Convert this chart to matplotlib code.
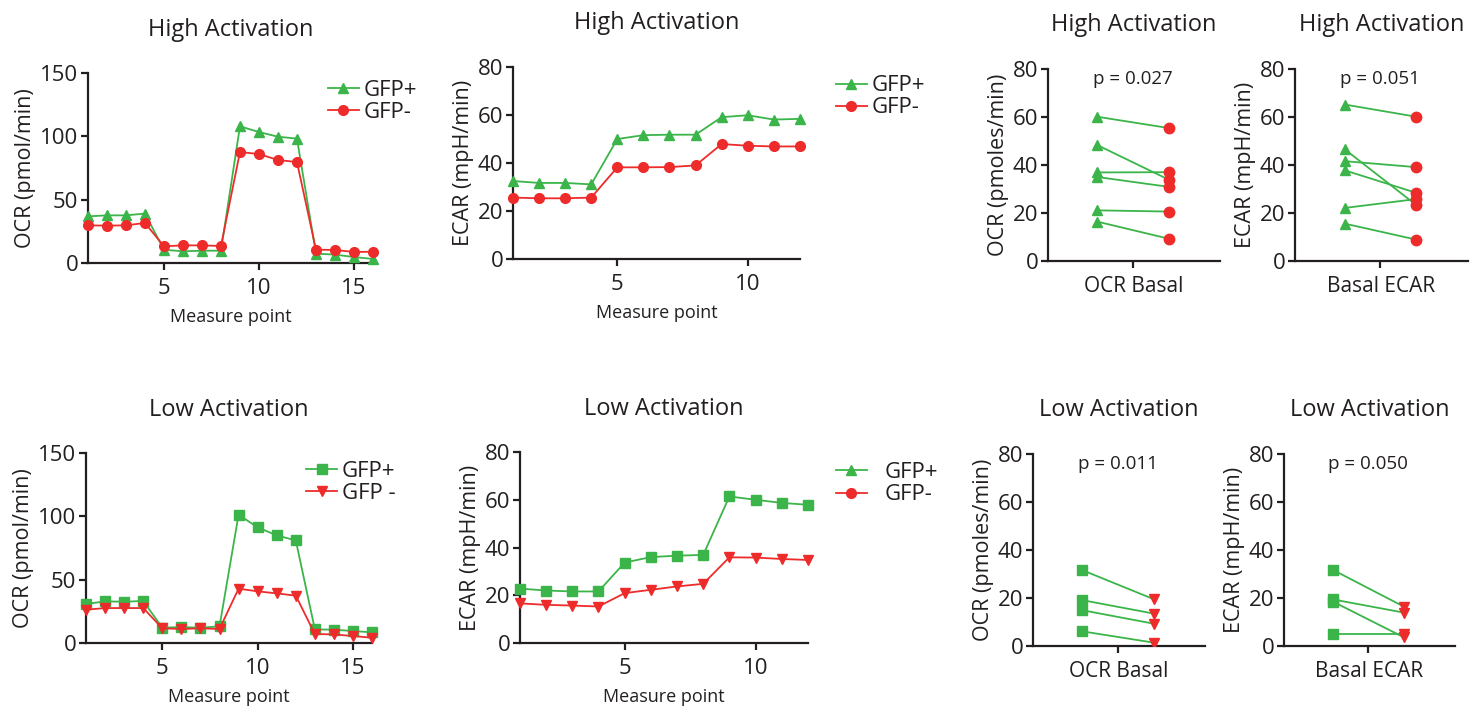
import matplotlib
matplotlib.use("Agg")
import matplotlib.pyplot as plt

plt.rcParams['font.family'] = ['Open Sans', 'DejaVu Sans']
plt.rcParams['text.color'] = '#231f20'
plt.rcParams['axes.labelcolor'] = '#231f20'
plt.rcParams['xtick.color'] = '#231f20'
plt.rcParams['ytick.color'] = '#231f20'

GREEN = '#3bb54a'
RED = '#ee2b2b'

measure = list(range(1, 17))
measure12 = list(range(1, 13))

# high activation, OCR time course
ocr_high_pos = [36.8, 37.6, 37.6, 39.0, 10.5, 9.2, 9.7, 9.7,
                107.9, 103.4, 99.7, 98.2, 7.4, 6.6, 4.7, 3.2]
ocr_high_neg = [29.7, 29.5, 29.7, 31.6, 13.2, 13.9, 13.9, 13.4,
                87.6, 86.0, 81.3, 79.7, 10.5, 10.3, 8.7, 8.9]
# high activation, ECAR time course
ecar_high_pos = [32.5, 31.7, 31.7, 31.1, 50.0, 51.6, 51.8, 51.8, 59.1, 59.9, 58.1, 58.4]
ecar_high_neg = [25.6, 25.3, 25.3, 25.6, 38.2, 38.2, 38.3, 39.0, 47.9, 47.2, 46.9, 46.9]
# low activation, OCR time course
ocr_low_pos = [30.8, 32.9, 32.6, 33.2, 12.1, 12.6, 12.1, 13.2,
               101.3, 91.3, 85.0, 81.0, 10.8, 10.5, 9.5, 8.4]
ocr_low_neg = [26.3, 27.6, 27.6, 27.6, 11.6, 11.1, 11.6, 11.1,
               42.9, 40.8, 39.2, 37.4, 7.1, 6.8, 5.5, 4.2]
# low activation, ECAR time course
ecar_low_pos = [22.8, 22.0, 21.6, 21.6, 33.7, 36.0, 36.6, 36.9, 61.4, 60.0, 58.7, 57.9]
ecar_low_neg = [16.6, 16.0, 15.7, 15.3, 20.9, 22.3, 23.7, 24.8, 35.9, 35.8, 35.2, 34.8]

# paired basal values (GFP+, GFP-)
ocr_basal_high_pos = [60.1, 48.3, 36.9, 35.0, 21.1, 16.4]
ocr_basal_high_neg = [55.4, 33.9, 37.0, 30.9, 20.6, 9.3]
ecar_basal_high_pos = [65.2, 46.6, 41.6, 37.8, 22.1, 15.6]
ecar_basal_high_neg = [60.1, 23.3, 39.1, 28.4, 25.8, 8.9]
ocr_basal_low_pos = [31.6, 19.1, 14.9, 6.1]
ocr_basal_low_neg = [19.5, 13.5, 9.3, 1.4]
ecar_basal_low_pos = [31.7, 19.4, 18.5, 5.0]
ecar_basal_low_neg = [16.4, 13.9, 3.6, 5.0]

p_values = ['p = 0.027', 'p = 0.051', 'p = 0.011', 'p = 0.050']

fig = plt.figure(figsize=(14.83, 7.06), dpi=100)


def style(ax, xpad=2):
    for s in ['top', 'right']:
        ax.spines[s].set_visible(False)
    for s in ['left', 'bottom']:
        ax.spines[s].set_linewidth(1.6)
        ax.spines[s].set_color('#231f20')
    ax.tick_params(width=1.6, length=5, labelsize=16, pad=2)
    ax.tick_params(axis='x', pad=xpad)


def timecourse(rect, x, pos, neg, mpos, mneg, ylim, yticks, ylabel, title,
               legend_anchor, leg_labels, leg_markers, textpad=0.2):
    ax = fig.add_axes(rect)
    ax.plot(x, pos, color=GREEN, marker=mpos, ms=7, lw=1.3, clip_on=False, zorder=3)
    ax.plot(x, neg, color=RED, marker=mneg, ms=7, lw=1.3, clip_on=False, zorder=3)
    ax.set_xlim(1, x[-1])
    ax.set_xticks([t for t in [5, 10, 15] if t <= x[-1]])
    ax.set_ylim(*ylim)
    ax.set_yticks(yticks)
    ax.set_xlabel('Measure point', fontsize=13, labelpad=6)
    ax.set_ylabel(ylabel, fontsize=15.5, labelpad=3)
    ax.set_title(title, fontsize=17, pad=27)
    style(ax, xpad=6)
    h1, = ax.plot([], [], color=GREEN, marker=leg_markers[0], ms=7, lw=1.3)
    h2, = ax.plot([], [], color=RED, marker=leg_markers[1], ms=7, lw=1.3)
    fig.legend([h1, h2], leg_labels, loc='upper left', bbox_to_anchor=legend_anchor,
               frameon=False, fontsize=16, handlelength=1.4, handletextpad=textpad,
               labelspacing=0.05, borderpad=0)
    return ax


def paired(rect, pos, neg, mpos, mneg, ylabel, xlabel, title, ptext):
    ax = fig.add_axes(rect)
    for a, b in zip(pos, neg):
        ax.plot([0, 1], [a, b], color=GREEN, lw=1.3, zorder=2)
    ax.plot([0] * len(pos), pos, ls='none', marker=mpos, color=GREEN, ms=7.5, zorder=3)
    ax.plot([1] * len(neg), neg, ls='none', marker=mneg, color=RED, ms=7.5, zorder=4)
    ax.set_xlim(-0.69, 1.72)
    ax.set_xticks([0.5])
    ax.set_xticklabels([''])
    ax.set_ylim(0, 80)
    ax.set_yticks([0, 20, 40, 60, 80])
    ax.set_xlabel(xlabel, fontsize=15, labelpad=4)
    ax.set_ylabel(ylabel, fontsize=15.5, labelpad=3)
    ax.set_title(title, fontsize=17, pad=27)
    ax.text(0.5, 76, ptext, ha='center', va='center', fontsize=13.5)
    style(ax)
    return ax


timecourse([0.0593, 0.6275, 0.1922, 0.2691], measure, ocr_high_pos, ocr_high_neg,
           '^', 'o', (0, 150), [0, 50, 100, 150], 'OCR (pmol/min)', 'High Activation',
           (0.2135, 0.903), ['GFP+', 'GFP-'], ['^', 'o'])
timecourse([0.3459, 0.6331, 0.1935, 0.2720], measure12, ecar_high_pos, ecar_high_neg,
           '^', 'o', (0, 80), [0, 20, 40, 60, 80], 'ECAR (mpH/min)', 'High Activation',
           (0.556, 0.909), ['GFP+', 'GFP-'], ['^', 'o'])
timecourse([0.0580, 0.0892, 0.1929, 0.2691], measure, ocr_low_pos, ocr_low_neg,
           's', 'v', (0, 150), [0, 50, 100, 150], 'OCR (pmol/min)', 'Low Activation',
           (0.199, 0.363), ['GFP+', 'GFP -'], ['s', 'v'])
timecourse([0.3506, 0.0892, 0.1942, 0.2705], measure12, ecar_low_pos, ecar_low_neg,
           's', 'v', (0, 80), [0, 20, 40, 60, 80], 'ECAR (mpH/min)', 'Low Activation',
           (0.556, 0.361), ['GFP+', 'GFP-'], ['^', 'o'], textpad=0.8)

paired([0.7067, 0.6303, 0.1160, 0.2720], ocr_basal_high_pos, ocr_basal_high_neg,
       '^', 'o', 'OCR (pmoles/min)', 'OCR Basal', 'High Activation', p_values[0])
paired([0.8732, 0.6303, 0.1167, 0.2720], ecar_basal_high_pos, ecar_basal_high_neg,
       '^', 'o', 'ECAR (mpH/min)', 'Basal ECAR', 'High Activation', p_values[1])
paired([0.6966, 0.0850, 0.1160, 0.2720], ocr_basal_low_pos, ocr_basal_low_neg,
       's', 'v', 'OCR (pmoles/min)', 'OCR Basal', 'Low Activation', p_values[2])
paired([0.8658, 0.0850, 0.1153, 0.2720], ecar_basal_low_pos, ecar_basal_low_neg,
       's', 'v', 'ECAR (mpH/min)', 'Basal ECAR', 'Low Activation', p_values[3])

fig.savefig('out.png', dpi=100)
